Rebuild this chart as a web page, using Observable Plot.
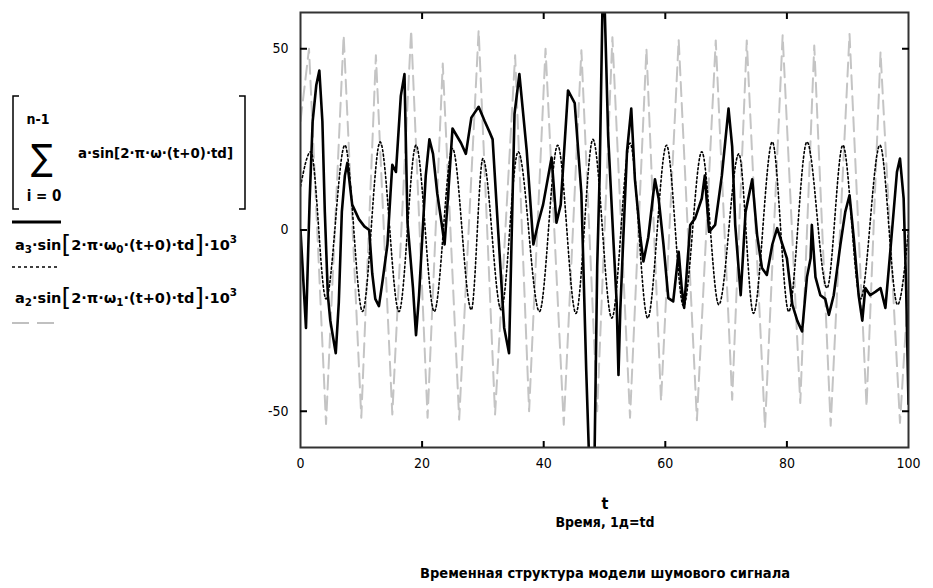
<!DOCTYPE html>
<html>
<head>
<meta charset="utf-8">
<script src="https://cdn.jsdelivr.net/npm/d3@7"></script>
<script src="https://cdn.jsdelivr.net/npm/@observablehq/plot@0.6"></script>
<style>
  html, body { margin: 0; padding: 0; background: #fff; }
  #chart { width: 933px; height: 588px; position: relative; }
</style>
</head>
<body>
<div id="chart"></div>
<script>
// ---- data ----
// Sum of the harmonics (thick black line)
const sumT = [0,0.9,1.5,2.0,2.6,3.1,3.6,4.0,4.5,4.9,5.4,5.8,6.3,6.8,7.3,7.7,8.5,9.6,10.5,11.3,11.8,12.3,12.9,13.5,14.3,14.8,15.1,15.7,16.5,17.1,17.6,18.5,19.0,19.5,20.1,20.6,21.2,21.8,22.5,23.2,23.7,24.3,25.0,26.4,27.2,28.1,29.3,30.3,31.1,31.6,32.5,33.5,34.3,34.7,35.2,36.0,37.2,38.3,39.1,39.9,41.3,42.1,42.8,44.0,45.1,46.2,47.0,47.6,48.3,48.8,49.2,49.8,50.3,50.6,51.5,52.0,52.3,52.6,53.1,53.7,54.4,55.0,55.9,56.4,57.2,58.3,58.9,59.7,60.5,61.3,62.2,62.7,63.1,64.1,64.9,66.0,66.5,67.2,68.2,69.3,70.4,71.0,71.5,72.4,73.2,74.3,75.1,75.9,76.7,77.6,78.4,80.0,80.9,81.7,82.5,83.3,83.9,84.1,84.7,85.5,86.3,86.9,87.7,88.8,89.6,90.3,91.0,91.8,92.4,92.9,93.7,94.6,95.4,96.2,97.0,98.1,98.6,99.2,99.6,100];
const sumV = [0,-27,8,30,40,44,30,5,-18,-25,-30,-34,-20,5,15,18.5,7,3,1,0,-12,-19,-21,-14,-4,10,18,16,37,43,2,-16,-29,-18,0,15,25,21,10,2,-4,10,28,24,21,31,34,30,27,25,0,-27,-34,-4,32,43,22,-4,2,7,20,2,7,38.5,35,10,-39,-70,-70,-10,15,75,45,26,-4,-20,-40,-22,-2,21.6,33.5,14,-2,-8.7,-2,14,8.7,-4,-18.8,-19.7,-6,-16,-21.5,1.4,3.2,8.7,15,-0.5,1.4,15,33.5,23,1.4,-18,5,14,-1.4,-10.5,-12.4,-4,0.5,-7.8,-20.6,-25,-28,-13,-7.8,1.4,-13,-18,-19,-23.4,-18,-4,5,9.6,-2.3,-18,-25,-16,-18,-17,-16,-21.5,-6,16,19.7,8.7,-15,-48];

// a3·sin[2πω0(t+0)td]·10^3 (dotted)
const a3T = [0,1.7,4.2,7.3,10.2,13.1,16.2,19.0,22.0,25.0,28.1,30.0,33.0,35.8,39.3,42.3,45.3,48.1,51.2,54.2,57.1,60.2,63.0,66.0,68.8,72.1,74.5,77.6,80.3,83.3,86.6,89.2,92.1,95.3,98.2,100];
const a3V = [12,21.6,-19,23.4,-22.5,24.3,-22.5,23.4,-22.5,22.5,-22,19.7,-22,21.6,-22.5,23.4,-23,25,-24.3,24,-24.3,23.4,-21,21.6,-20.6,21,-23,24.3,-22.5,24.3,-16,23.4,-19,23.4,-20.6,0];

// a2·sin[2πω1(t+0)td]·10^3 (grey dashed)
const a2T = [0,1.4,4.2,7.1,10.0,12.4,15.1,18.2,20.9,23.4,26.1,29.3,32.0,35.3,37.6,40.3,43.3,46.2,48.8,51.3,54.2,56.9,59.3,62.2,65.2,68.3,71.0,73.4,76.4,79.3,82.2,84.5,87.2,90.3,93.1,95.4,98.6,100];
const a2V = [30,50,-53.5,53.7,-51.8,48.2,-50.9,55.1,-51.8,45.9,-52.3,55.1,-50.9,48.2,-50,50,-53.7,49.6,-50,53.2,-51.8,50,-47.2,52.5,-52.5,52.3,-46.8,52.3,-54.6,53.7,-47.7,50.9,-54,54.1,-48.7,49.1,-53.2,-15];

const xTicks = [0,20,40,60,80,100];
const yTicks = [-50,0,50];
const innerXTicks = [20,40,60,80];

const sumData = sumT.map((t,i) => ({t, v: sumV[i]}));
const a3Data = a3T.map((t,i) => ({t, v: a3V[i]}));
const a2Data = a2T.map((t,i) => ({t, v: a2V[i]}));

const FONT = "'Liberation Sans Narrow','DejaVu Sans Condensed','Arial Narrow',sans-serif";
const blank = () => "";

const svg = Plot.plot({
  width: 933,
  height: 588,
  marginLeft: 300,
  marginRight: 25,
  marginTop: 12,
  marginBottom: 141,
  x: {domain: [0, 100]},
  y: {domain: [-60, 60]},
  style: {fontFamily: FONT, fontSize: "14px", color: "#000", background: "#fff", overflow: "visible"},
  marks: [
    Plot.line(a2Data, {x: "t", y: "v", stroke: "#c4c4c4", strokeWidth: 2, strokeDasharray: "14,7", clip: true}),
    Plot.line(a3Data, {x: "t", y: "v", stroke: "#000", strokeWidth: 1.6, strokeDasharray: "2,2.5", curve: "monotone-x", clip: true}),
    Plot.line(sumData, {x: "t", y: "v", stroke: "#000", strokeWidth: 2.6, clip: true}),
    Plot.frame({stroke: "#333", strokeWidth: 2}),
    Plot.axisX({ticks: xTicks, tickSize: 0, tickPadding: 11, label: null, tickFormat: d => String(d)}),
    Plot.axisX({ticks: innerXTicks, anchor: "bottom", tickSize: -6, tickFormat: blank, label: null, strokeWidth: 2}),
    Plot.axisX({ticks: innerXTicks, anchor: "top", tickSize: -6, tickFormat: blank, label: null, strokeWidth: 2}),
    Plot.axisY({ticks: yTicks, tickSize: 0, tickPadding: 12, label: null, tickFormat: d => String(d)}),
    Plot.axisY({ticks: yTicks, anchor: "left", tickSize: -7, tickFormat: blank, label: null, strokeWidth: 2}),
    Plot.axisY({ticks: yTicks, anchor: "right", tickSize: -7, tickFormat: blank, label: null, strokeWidth: 2})
  ]
});

document.getElementById("chart").appendChild(svg);

// ---- texts and legend added to the same svg ----
const g = d3.select(svg).append("g").attr("font-family", FONT).attr("fill", "#000").attr("text-anchor", "start");

// axis titles and caption
g.append("text").attr("x", 605).attr("y", 509).attr("text-anchor", "middle")
  .attr("font-size", 16).attr("font-weight", "bold").text("t");
g.append("text").attr("x", 605).attr("y", 527).attr("text-anchor", "middle")
  .attr("font-size", 14).attr("font-weight", "bold").text("Время, 1д=td");
g.append("text").attr("x", 605).attr("y", 578).attr("text-anchor", "middle")
  .attr("font-size", 14).attr("font-weight", "bold")
  .attr("textLength", 370).attr("lengthAdjust", "spacingAndGlyphs")
  .text("Временная структура модели шумового сигнала");

// legend: sum formula with brackets
g.append("path").attr("d", "M19,96 L13,96 L13,209 L19,209").attr("fill", "none").attr("stroke", "#000").attr("stroke-width", 1.5);
g.append("path").attr("d", "M239,96 L245,96 L245,209 L239,209").attr("fill", "none").attr("stroke", "#000").attr("stroke-width", 1.5);
g.append("text").attr("x", 38).attr("y", 124).attr("text-anchor", "middle").attr("font-size", 14).attr("font-weight", "bold").text("n-1");
g.append("text").attr("x", 42).attr("y", 170).attr("text-anchor", "middle").attr("font-size", 36).text("∑");
g.append("text").attr("x", 44).attr("y", 201).attr("text-anchor", "middle").attr("font-size", 15).attr("font-weight", "bold").text("i = 0");
g.append("text").attr("x", 78).attr("y", 158).attr("text-anchor", "start").attr("font-size", 14).attr("font-weight", "bold")
  .attr("textLength", 155).attr("lengthAdjust", "spacingAndGlyphs")
  .text("a·sin[2·π·ω·(t+0)·td]");
g.append("line").attr("x1", 12).attr("x2", 61).attr("y1", 222).attr("y2", 222).attr("stroke", "#000").attr("stroke-width", 3);

// a3 row
const r1 = g.append("text").attr("x", 15).attr("y", 250).attr("text-anchor", "start").attr("font-size", 14).attr("font-weight", "bold")
  .attr("textLength", 222).attr("lengthAdjust", "spacingAndGlyphs");
r1.append("tspan").text("a");
r1.append("tspan").attr("font-size", 10).attr("dy", 3).text("3");
r1.append("tspan").attr("dy", -3).text("·sin");
r1.append("tspan").attr("font-size", 24).attr("font-weight", "normal").attr("dy", 3).text("[");
r1.append("tspan").attr("dy", -3).text("2·π·ω");
r1.append("tspan").attr("font-size", 10).attr("dy", 3).text("0");
r1.append("tspan").attr("dy", -3).text("·(t+0)·td");
r1.append("tspan").attr("font-size", 24).attr("font-weight", "normal").attr("dy", 3).text("]");
r1.append("tspan").attr("dy", -3).text("·10");
r1.append("tspan").attr("font-size", 10).attr("dy", -7).text("3");
g.append("line").attr("x1", 12).attr("x2", 58).attr("y1", 267).attr("y2", 267)
  .attr("stroke", "#000").attr("stroke-width", 1.5).attr("stroke-dasharray", "3,3");

// a2 row
const r2 = g.append("text").attr("x", 15).attr("y", 303).attr("text-anchor", "start").attr("font-size", 14).attr("font-weight", "bold")
  .attr("textLength", 222).attr("lengthAdjust", "spacingAndGlyphs");
r2.append("tspan").text("a");
r2.append("tspan").attr("font-size", 10).attr("dy", 3).text("2");
r2.append("tspan").attr("dy", -3).text("·sin");
r2.append("tspan").attr("font-size", 24).attr("font-weight", "normal").attr("dy", 3).text("[");
r2.append("tspan").attr("dy", -3).text("2·π·ω");
r2.append("tspan").attr("font-size", 10).attr("dy", 3).text("1");
r2.append("tspan").attr("dy", -3).text("·(t+0)·td");
r2.append("tspan").attr("font-size", 24).attr("font-weight", "normal").attr("dy", 3).text("]");
r2.append("tspan").attr("dy", -3).text("·10");
r2.append("tspan").attr("font-size", 10).attr("dy", -7).text("3");
g.append("line").attr("x1", 12).attr("x2", 60).attr("y1", 323).attr("y2", 323)
  .attr("stroke", "#c0c0c0").attr("stroke-width", 2).attr("stroke-dasharray", "17,8");
</script>
</body>
</html>
